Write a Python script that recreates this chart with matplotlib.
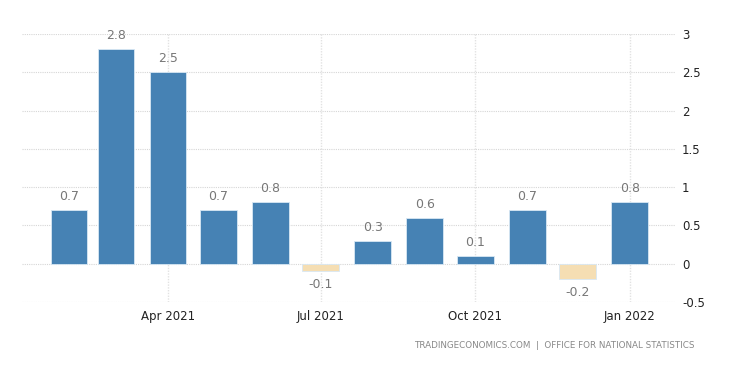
import matplotlib
matplotlib.use("Agg")
import matplotlib.pyplot as plt
from datetime import datetime

months = ["2021-02", "2021-03", "2021-04", "2021-05", "2021-06", "2021-07",
          "2021-08", "2021-09", "2021-10", "2021-11", "2021-12", "2022-01"]
values = [0.7, 2.8, 2.5, 0.7, 0.8, -0.1, 0.3, 0.6, 0.1, 0.7, -0.2, 0.8]
tick_months = ["2021-04", "2021-07", "2021-10", "2022-01"]
tick_labels = ["Apr 2021", "Jul 2021", "Oct 2021", "Jan 2022"]
y_ticks = [-0.5, 0, 0.5, 1, 1.5, 2, 2.5, 3]
source = "TRADINGECONOMICS.COM  |  OFFICE FOR NATIONAL STATISTICS"

plt.rcParams['font.family'] = ['DejaVu Sans']

dates = [datetime.strptime(m, "%Y-%m") for m in months]
tdates = [datetime.strptime(m, "%Y-%m") for m in tick_months]
colors = ['#4682b4' if v >= 0 else '#f5deb3' for v in values]

fig = plt.figure(figsize=(7.4, 3.75), dpi=100)
ax = fig.add_axes([0.0297, 0.195, 0.8824, 0.714])

ax.bar(dates, values, width=22, color=colors, edgecolor='#d8e8f4', linewidth=0.6, zorder=3)

# value labels above / below each bar
for d, v in zip(dates, values):
    off, va = (5, 'bottom') if v >= 0 else (-5, 'top')
    ax.annotate(f"{v:g}", (d, v), xytext=(0, off), textcoords='offset points',
                ha='center', va=va, fontsize=9, color='#777777')

ax.set_xlim(datetime(2021, 1, 4), datetime(2022, 1, 28))
ax.set_ylim(-0.5, 3)
ax.set_xticks(tdates)
ax.set_xticklabels(tick_labels)
ax.set_yticks(y_ticks)
ax.set_yticklabels([f"{t:g}" for t in y_ticks])
ax.yaxis.tick_right()
ax.tick_params(axis='both', length=0, labelsize=8.5, colors='#222222')
ax.tick_params(axis='x', pad=6)
ax.tick_params(axis='y', pad=5)

ax.grid(axis='y', color='#d6d6d6', linestyle=(0, (1, 1)), linewidth=0.8, zorder=0)
ax.grid(axis='x', color='#e2e2e2', linestyle=(0, (1, 1)), linewidth=1.0, zorder=0)
for s in ax.spines.values():
    s.set_visible(False)

fig.text(0.939, 0.08, source, ha='right', va='center', fontsize=6.3, color='#888888')

fig.savefig("out.png", dpi=100)
